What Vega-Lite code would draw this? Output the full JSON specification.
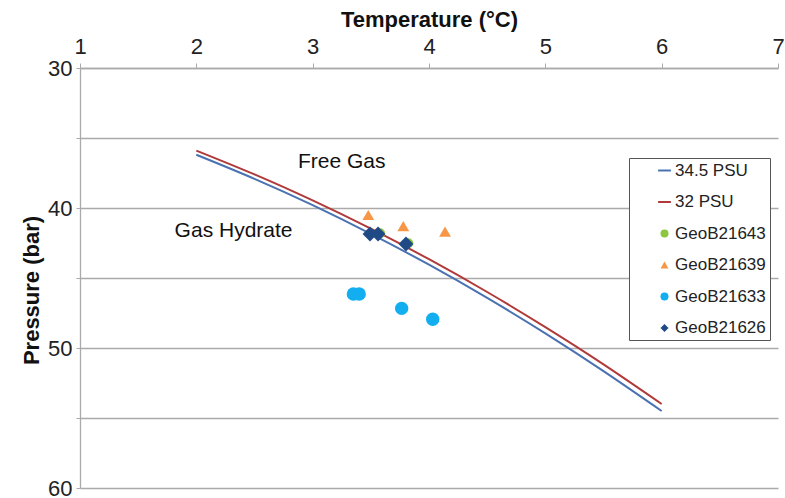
{
  "$schema": "https://vega.github.io/schema/vega-lite/v6.json",
  "width": 698,
  "height": 420,
  "autosize": {"type": "none"},
  "padding": {"left": 80, "top": 68, "right": 7, "bottom": 10},
  "background": "white",
  "config": {"font": "Liberation Sans", "view": {"stroke": null}},
  "datasets": {
    "curves": [
      {"series": "34.5 PSU", "T": 2.0, "P": 36.2},
      {"series": "34.5 PSU", "T": 2.5, "P": 37.92},
      {"series": "34.5 PSU", "T": 3.0, "P": 39.8},
      {"series": "34.5 PSU", "T": 3.5, "P": 41.85},
      {"series": "34.5 PSU", "T": 4.0, "P": 44.05},
      {"series": "34.5 PSU", "T": 4.5, "P": 46.42},
      {"series": "34.5 PSU", "T": 5.0, "P": 48.95},
      {"series": "34.5 PSU", "T": 5.5, "P": 51.65},
      {"series": "34.5 PSU", "T": 6.0, "P": 54.5},
      {"series": "32 PSU", "T": 2.0, "P": 35.9},
      {"series": "32 PSU", "T": 2.5, "P": 37.6},
      {"series": "32 PSU", "T": 3.0, "P": 39.46},
      {"series": "32 PSU", "T": 3.5, "P": 41.48},
      {"series": "32 PSU", "T": 4.0, "P": 43.66},
      {"series": "32 PSU", "T": 4.5, "P": 46.0},
      {"series": "32 PSU", "T": 5.0, "P": 48.51},
      {"series": "32 PSU", "T": 5.5, "P": 51.17},
      {"series": "32 PSU", "T": 6.0, "P": 54.0}
    ],
    "samples": [
      {"series": "GeoB21639", "T": 3.478, "P": 40.5},
      {"series": "GeoB21639", "T": 3.779, "P": 41.29},
      {"series": "GeoB21639", "T": 4.138, "P": 41.69},
      {"series": "GeoB21633", "T": 3.35, "P": 46.14},
      {"series": "GeoB21633", "T": 3.40, "P": 46.14},
      {"series": "GeoB21633", "T": 3.765, "P": 47.17},
      {"series": "GeoB21633", "T": 4.032, "P": 47.95},
      {"series": "GeoB21643", "T": 3.579, "P": 41.81},
      {"series": "GeoB21643", "T": 3.822, "P": 42.52},
      {"series": "GeoB21626", "T": 3.493, "P": 41.86},
      {"series": "GeoB21626", "T": 3.562, "P": 41.86},
      {"series": "GeoB21626", "T": 3.802, "P": 42.57}
    ],
    "labels": [
      {"T": 3.25, "P": 36.7, "text": "Free Gas"},
      {"T": 2.32, "P": 41.64, "text": "Gas Hydrate"}
    ]
  },
  "layer": [
    {
      "data": {"name": "curves"},
      "mark": {"type": "line", "strokeWidth": 2, "interpolate": "natural"},
      "encoding": {
        "x": {
          "field": "T", "type": "quantitative",
          "scale": {"domain": [1, 7], "nice": false, "zero": false},
          "axis": {
            "orient": "top", "values": [1, 2, 3, 4, 5, 6, 7], "format": "d", "grid": false,
            "domainColor": "#aaaaaa", "domainWidth": 1.3, "tickColor": "#aaaaaa", "tickSize": 5,
            "labelPadding": 5, "labelFontSize": 22, "labelColor": "#222222", "labelFlush": false,
            "title": "Temperature (°C)", "titleFontSize": 22, "titleFontWeight": "bold",
            "titleColor": "#111111", "titlePadding": 4
          }
        },
        "y": {
          "field": "P", "type": "quantitative",
          "scale": {"domain": [30, 60], "reverse": true, "nice": false, "zero": false},
          "axis": {
            "values": [30, 35, 40, 45, 50, 55, 60],
            "labelExpr": "datum.value % 10 === 0 ? datum.label : ''",
            "grid": true, "gridColor": "#aaaaaa", "gridWidth": 1.3,
            "domainColor": "#aaaaaa", "domainWidth": 1.3, "tickColor": "#aaaaaa", "tickSize": 4,
            "labelPadding": 4, "labelFontSize": 22, "labelColor": "#222222",
            "title": "Pressure (bar)", "titleFontSize": 22, "titleFontWeight": "bold",
            "titleColor": "#111111", "titleX": -49, "titleY": 222, "titleAngle": -90,
            "titleBaseline": "middle", "titleAlign": "center"
          }
        },
        "stroke": {
          "field": "series", "type": "nominal",
          "scale": {"domain": ["34.5 PSU", "32 PSU"], "range": ["#4a72b2", "#b03a3a"]},
          "legend": null
        }
      }
    },
    {
      "data": {"name": "samples"},
      "mark": {"type": "point", "filled": true, "opacity": 1},
      "encoding": {
        "x": {"field": "T", "type": "quantitative"},
        "y": {"field": "P", "type": "quantitative"},
        "size": {
          "field": "series", "type": "nominal",
          "scale": {
            "domain": ["GeoB21643", "GeoB21639", "GeoB21633", "GeoB21626"],
            "range": [100, 220, 105, 130]
          },
          "legend": null
        },
        "color": {
          "field": "series", "type": "nominal",
          "scale": {
            "domain": ["34.5 PSU", "32 PSU", "GeoB21643", "GeoB21639", "GeoB21633", "GeoB21626"],
            "range": ["#4a72b2", "#b03a3a", "#8dc63f", "#f79646", "#12aef0", "#1f4a86"]
          },
          "legend": {
            "title": null, "orient": "none", "legendX": 549, "legendY": 90,
            "padding": 4, "strokeColor": "#555555", "fillColor": "white",
            "labelFontSize": 17, "labelColor": "#222222", "symbolSize": 64,
            "rowPadding": 13.5, "symbolOffset": 23, "labelOffset": 2
          }
        },
        "shape": {
          "field": "series", "type": "nominal",
          "scale": {
            "domain": ["34.5 PSU", "32 PSU", "GeoB21643", "GeoB21639", "GeoB21633", "GeoB21626"],
            "range": ["M-1.6,-0.25H1.6V0.25H-1.6Z", "M-1.6,-0.25H1.6V0.25H-1.6Z", "circle", "triangle-up", "circle", "diamond"]
          },
          "legend": {
            "title": null, "orient": "none", "legendX": 549, "legendY": 90,
            "padding": 4, "strokeColor": "#555555", "fillColor": "white",
            "labelFontSize": 17, "labelColor": "#222222", "symbolSize": 64,
            "rowPadding": 13.5, "symbolOffset": 23, "labelOffset": 2
          }
        }
      }
    },
    {
      "data": {"name": "labels"},
      "mark": {"type": "text", "fontSize": 21, "align": "center", "baseline": "middle", "color": "#111111"},
      "encoding": {
        "x": {"field": "T", "type": "quantitative"},
        "y": {"field": "P", "type": "quantitative"},
        "text": {"field": "text", "type": "nominal"}
      }
    }
  ]
}
